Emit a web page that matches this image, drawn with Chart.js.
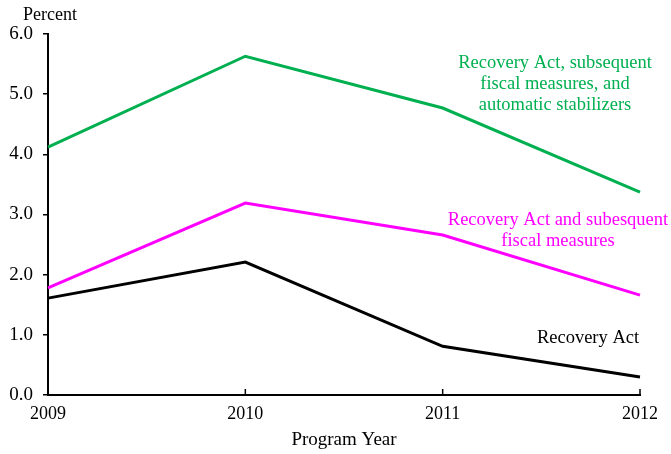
<!DOCTYPE html>
<html>
<head>
<meta charset="utf-8">
<script src="https://cdn.jsdelivr.net/npm/chart.js@4"></script>
<style>
  body { margin: 0; background: #fff; }
  #wrap { width: 671px; height: 454px; }
</style>
</head>
<body>
<div id="wrap"><canvas id="myChart" width="671" height="454"></canvas></div>
<script>
const years = ['2009', '2010', '2011', '2012'];
const recoveryAct = [1.61, 2.21, 0.81, 0.30];
const plusFiscal = [1.78, 3.19, 2.66, 1.66];
const plusStabilizers = [4.12, 5.63, 4.77, 3.37];
const yTicks = [0, 1, 2, 3, 4, 5, 6];

const serif = 'Liberation Serif, Times New Roman, serif';

// text labels next to the lines
const notes = [
  { lines: ['Recovery Act, subsequent', 'fiscal measures, and', 'automatic stabilizers'], color: '#00B050', x: 555, y: 63 },
  { lines: ['Recovery Act and subesquent', 'fiscal measures'], color: '#FF00FF', x: 558, y: 220 },
  { lines: ['Recovery Act'], color: '#000000', x: 588, y: 338 },
];

const extras = {
  id: 'extras',
  afterDatasetsDraw(chart) {
    const c = chart.ctx;
    const xs = chart.scales.x;
    c.save();
    // inward tick marks on the x axis
    c.strokeStyle = '#000';
    c.lineWidth = 1.5;
    xs.ticks.forEach((t, i) => {
      const px = xs.getPixelForTick(i);
      c.beginPath();
      c.moveTo(px, xs.top);
      c.lineTo(px, xs.top - 6);
      c.stroke();
    });
    c.font = '18.5px ' + serif;
    c.textAlign = 'center';
    c.textBaseline = 'middle';
    notes.forEach(n => {
      c.fillStyle = n.color;
      n.lines.forEach((l, i) => c.fillText(l, n.x, n.y + i * 21));
    });
    c.fillStyle = '#000';
    c.font = '18px ' + serif;
    c.fillText('Percent', 50, 15);
    c.restore();
  }
};

const ctx = document.getElementById('myChart').getContext('2d');
const myChart = new Chart(ctx, {
  type: 'line',
  data: {
    labels: years,
    datasets: [
      { label: 'Recovery Act', data: recoveryAct, borderColor: '#000000' },
      { label: 'Recovery Act and subsequent fiscal measures', data: plusFiscal, borderColor: '#FF00FF' },
      { label: 'Recovery Act, subsequent fiscal measures, and automatic stabilizers', data: plusStabilizers, borderColor: '#00B050' },
    ],
  },
  plugins: [extras],
  options: {
    responsive: false,
    animation: false,
    layout: { padding: { top: 34, right: 31, left: 0, bottom: 0 } },
    elements: {
      line: { borderWidth: 3, tension: 0, fill: false },
      point: { radius: 0 },
    },
    plugins: {
      legend: { display: false },
      tooltip: { enabled: false },
    },
    scales: {
      x: {
        offset: false,
        afterFit: s => { s.height = 59; },
        grid: { display: true, drawOnChartArea: false, drawTicks: false },
        border: { color: '#000', width: 2 },
        ticks: {
          color: '#000',
          padding: 8,
          maxRotation: 0,
          font: { family: serif, size: 18 },
        },
        title: {
          display: true,
          text: 'Program Year',
          color: '#000',
          padding: { top: 0, bottom: 3 },
          font: { family: serif, size: 19 },
        },
      },
      y: {
        min: 0,
        max: 6,
        afterFit: s => { s.width = 48; },
        afterBuildTicks: s => { s.ticks = yTicks.map(v => ({ value: v })); },
        grid: { drawOnChartArea: false, drawTicks: true, tickLength: 5, color: '#000', lineWidth: 1.5 },
        border: { color: '#000', width: 2 },
        ticks: {
          color: '#000',
          padding: 10,
          font: { family: serif, size: 19 },
          callback: v => Number(v).toFixed(1),
        },
      },
    },
  },
});
</script>
</body>
</html>
